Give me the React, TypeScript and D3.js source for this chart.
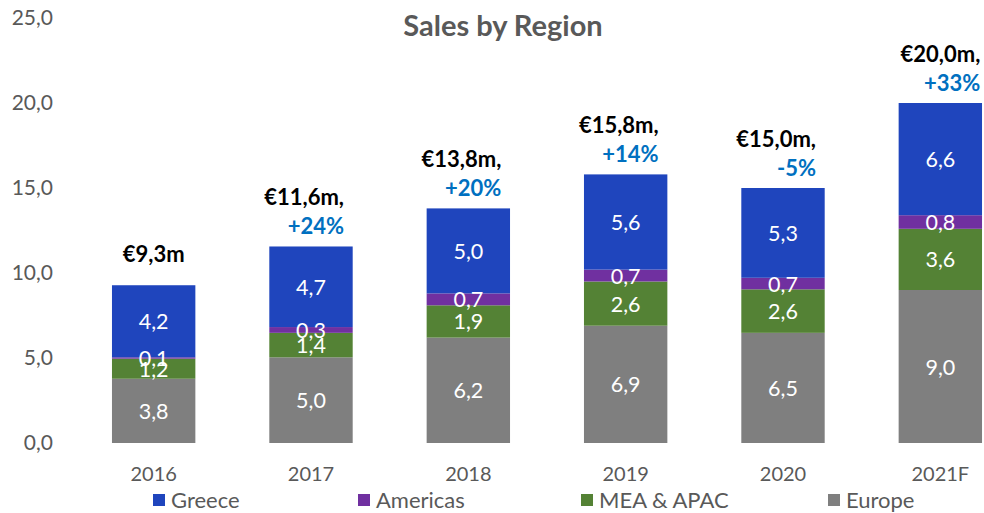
import React from 'react';
import * as d3 from 'd3';

const years = ['2016', '2017', '2018', '2019', '2020', '2021F'];
const europe = [3.78, 5.04, 6.2, 6.9, 6.48, 9.0];
const meaApac = [1.18, 1.44, 1.9, 2.6, 2.56, 3.6];
const americas = [0.08, 0.34, 0.7, 0.7, 0.68, 0.8];
const greece = [4.24, 4.74, 5.0, 5.6, 5.28, 6.6];
const totalLabels = ['€9,3m', '€11,6m,', '€13,8m,', '€15,8m,', '€15,0m,', '€20,0m,'];
const growthLabels = ['', '+24%', '+20%', '+14%', '-5%', '+33%'];
const yTicks = [0, 5, 10, 15, 20, 25];

const seriesNames = ['Europe', 'MEA & APAC', 'Americas', 'Greece'];
const seriesColors = ['#7f7f7f', '#548235', '#7030a0', '#1f45bd'];
const legendOrder = ['Greece', 'Americas', 'MEA & APAC', 'Europe'];
const legendX = [153, 358, 581, 828];

const W = 984;
const H = 513;
const FONT = 'Lato, "Open Sans", sans-serif';

export default function App() {
  const x = d3.scaleBand<string>().domain(years).range([75, 1019]).paddingInner(0.47).paddingOuter(0.235);
  const y = d3.scaleLinear().domain([0, 25]).range([443, 18]);

  const rows = years.map((yr, i) => ({
    year: yr,
    Europe: europe[i],
    'MEA & APAC': meaApac[i],
    Americas: americas[i],
    Greece: greece[i],
  }));
  const stacked = d3.stack<any>().keys(seriesNames)(rows);
  const fmt = (v: number) => v.toFixed(1).replace('.', ',');
  const colorOf = (name: string) => seriesColors[seriesNames.indexOf(name)];

  return (
    <svg width={W} height={H} style={{ position: 'absolute', left: 0, top: 0, fontFamily: FONT }}>
      <rect width={W} height={H} fill="#fff" />
      <text x={503} y={36} textAnchor="middle" fontSize={29} fontWeight="bold" fill="#595959">
        Sales by Region
      </text>

      {yTicks.map(t => (
        <text key={t} x={53} y={y(t) + 7} textAnchor="end" fontSize={21} fill="#595959">
          {fmt(t)}
        </text>
      ))}

      {stacked.map((s, si) => (
        <g key={s.key}>
          {s.map((d, i) => {
            const x0 = x(years[i])!;
            const top = y(d[1]);
            const bot = y(d[0]);
            return (
              <rect key={i} x={x0} y={top} width={x.bandwidth()} height={bot - top} fill={seriesColors[si]} />
            );
          })}
        </g>
      ))}

      {stacked.map((s, si) =>
        s.map((d, i) => (
          <text
            key={s.key + i}
            x={x(years[i])! + x.bandwidth() / 2}
            y={(y(d[0]) + y(d[1])) / 2 + 8}
            textAnchor="middle"
            fontSize={21.5}
            fill="#fff"
          >
            {fmt(d[1] - d[0])}
          </text>
        ))
      )}

      {years.map((yr, i) => {
        const cx = x(yr)! + x.bandwidth() / 2;
        const top = y(stacked[3][i][1]);
        if (!growthLabels[i]) {
          return (
            <text key={yr} x={cx} y={top - 23} textAnchor="middle" fontSize={22} fontWeight="bold" fill="#000">
              {totalLabels[i]}
            </text>
          );
        }
        const rx = i === years.length - 1 ? cx + 40 : cx + 33;
        return (
          <g key={yr}>
            <text x={rx} y={top - 41} textAnchor="end" fontSize={22} fontWeight="bold" fill="#000">
              {totalLabels[i]}
            </text>
            <text x={rx} y={top - 12} textAnchor="end" fontSize={22} fontWeight="bold" fill="#0070c0">
              {growthLabels[i]}
            </text>
          </g>
        );
      })}

      {years.map(yr => (
        <text key={yr} x={x(yr)! + x.bandwidth() / 2} y={481} textAnchor="middle" fontSize={20} fill="#595959">
          {yr}
        </text>
      ))}

      {legendOrder.map((name, i) => (
        <g key={name} transform={`translate(${legendX[i]},0)`}>
          <rect x={0} y={494} width={12} height={12} fill={colorOf(name)} />
          <text x={18} y={508} fontSize={22} fill="#595959">
            {name}
          </text>
        </g>
      ))}
    </svg>
  );
}
